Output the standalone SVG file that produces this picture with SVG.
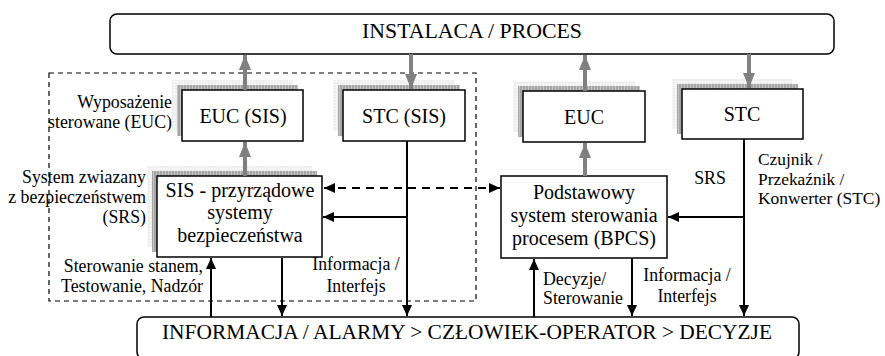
<svg xmlns="http://www.w3.org/2000/svg" width="885" height="356" viewBox="0 0 885 356" font-family="'Liberation Serif', serif">
<defs>
<marker id="ga" markerUnits="userSpaceOnUse" markerWidth="15" markerHeight="12" refX="15" refY="6" orient="auto-start-reverse"><path d="M0,0 L15,6 L0,12 z" fill="#808080"/></marker>
<marker id="ba" markerUnits="userSpaceOnUse" markerWidth="11" markerHeight="10" refX="11" refY="5" orient="auto-start-reverse"><path d="M0,0 L11,5 L0,10 z" fill="#000"/></marker>
<pattern id="grid" width="3" height="3" patternUnits="userSpaceOnUse"><rect width="3" height="3" fill="#ececec"/><path d="M0,0.5 H3 M0.5,0 V3" stroke="#f6f6f6" stroke-width="1"/></pattern>
<pattern id="gridd" width="3" height="3" patternUnits="userSpaceOnUse"><rect width="3" height="3" fill="#a6a6a6"/><path d="M0.5,0 V3" stroke="#c4c4c4" stroke-width="1"/></pattern>
</defs>
<style>
.box{fill:#fff;stroke:#000;stroke-width:1.5}
.sh1{fill:url(#grid)}
.sh2{fill:url(#gridd)}
.t{fill:#000}
.big{font-size:21.5px;text-anchor:middle}
.bx{font-size:20px;text-anchor:middle}
.lb{font-size:17.8px}
.g{stroke:#808080;stroke-width:4;fill:none;marker-end:url(#ga)}
.k{stroke:#000;stroke-width:2;fill:none}
.ka{marker-end:url(#ba)}
</style>

<g id="frame">
<rect x="49" y="73" width="427" height="228" fill="none" stroke="#000" stroke-width="1.2" stroke-dasharray="5,4"/>
</g>

<g id="instalacja">
<rect x="110" y="14" width="724" height="40" rx="7" class="box"/>
<text x="472" y="38" class="t big" font-family="Liberation Serif" style="font-size:21.8px">INSTALACA / PROCES</text>
</g>

<g id="euc-sis">
<rect x="172" y="80" width="121" height="51" class="sh1"/>
<rect x="177" y="85" width="121" height="51" class="sh2"/>
<rect x="182" y="90" width="121" height="51" class="box"/>
<text x="243" y="123" class="t bx" font-family="Liberation Serif">EUC (SIS)</text>
</g>

<g id="stc-sis">
<rect x="333" y="80" width="122" height="51" class="sh1"/>
<rect x="338" y="85" width="122" height="51" class="sh2"/>
<rect x="343" y="90" width="122" height="51" class="box"/>
<text x="404" y="123" class="t bx" font-family="Liberation Serif">STC (SIS)</text>
</g>

<g id="euc">
<rect x="513" y="81" width="122" height="51" class="sh1"/>
<rect x="518" y="86" width="122" height="51" class="sh2"/>
<rect x="523" y="91" width="122" height="51" class="box"/>
<text x="584" y="124" class="t bx" font-family="Liberation Serif">EUC</text>
</g>

<g id="stc">
<rect x="672" y="79" width="121" height="50" class="sh1"/>
<rect x="677" y="84" width="121" height="50" class="sh2"/>
<rect x="682" y="89" width="121" height="50" class="box"/>
<text x="742" y="121" class="t bx" font-family="Liberation Serif">STC</text>
</g>

<g id="sis" font-family="Liberation Serif">
<rect x="147" y="166" width="165" height="81" class="sh1"/>
<rect x="152" y="171" width="165" height="81" class="sh2"/>
<rect x="157" y="176" width="165" height="81" class="box"/>
<text x="240" y="197" class="t bx">SIS - przyrządowe</text>
<text x="240" y="219" class="t bx">systemy</text>
<text x="240" y="242" class="t bx">bezpieczeństwa</text>
</g>

<g id="bpcs" font-family="Liberation Serif">
<rect x="501" y="176" width="166" height="82" class="box"/>
<text x="584" y="199" class="t bx">Podstawowy</text>
<text x="584" y="222" class="t bx">system sterowania</text>
<text x="584" y="245" class="t bx">procesem (BPCS)</text>
</g>

<g id="operator">
<rect x="137" y="317" width="662" height="42" rx="7" class="box"/>
<text x="467" y="339" class="t big" font-family="Liberation Serif" style="font-size:21.4px">INFORMACJA / ALARMY &gt; CZŁOWIEK-OPERATOR &gt; DECYZJE</text>
</g>

<g id="connectors">
<line x1="245" y1="90" x2="245" y2="55" class="g"/>
<line x1="245" y1="176" x2="245" y2="142" class="g"/>
<line x1="411" y1="54" x2="411" y2="89" class="g"/>
<line x1="585" y1="91" x2="585" y2="55" class="g"/>
<line x1="585" y1="176" x2="585" y2="143" class="g"/>
<line x1="749" y1="54" x2="749" y2="88" class="g"/>
<line x1="407" y1="141" x2="407" y2="316" class="k ka"/>
<line x1="408" y1="217" x2="323" y2="217" class="k ka"/>
<line x1="324" y1="188" x2="500" y2="188" class="k" stroke-dasharray="8,6" marker-start="url(#ba)" marker-end="url(#ba)"/>
<line x1="211" y1="317" x2="211" y2="258" class="k ka"/>
<line x1="282" y1="258" x2="282" y2="316" class="k ka"/>
<line x1="534" y1="317" x2="534" y2="259" class="k ka"/>
<line x1="632" y1="258" x2="632" y2="316" class="k ka"/>
<line x1="744" y1="139" x2="744" y2="316" class="k ka"/>
<line x1="745" y1="217" x2="668" y2="217" class="k ka"/>
</g>

<g id="labels" font-family="Liberation Serif">
<text x="172" y="108" class="t lb" text-anchor="end">Wyposażenie</text>
<text x="172" y="128" class="t lb" text-anchor="end">sterowane (EUC)</text>
<text x="146" y="183" class="t lb" text-anchor="end">System zwiazany</text>
<text x="146" y="203" class="t lb" text-anchor="end">z bezpieczeństwem</text>
<text x="146" y="223" class="t lb" text-anchor="end">(SRS)</text>
<text x="203" y="272" class="t lb" text-anchor="end">Sterowanie stanem,</text>
<text x="203" y="292" class="t lb" text-anchor="end">Testowanie, Nadzór</text>
<text x="356" y="270" class="t lb" text-anchor="middle">Informacja /</text>
<text x="356" y="292" class="t lb" text-anchor="middle">Interfejs</text>
<text x="710" y="184" class="t lb" text-anchor="middle">SRS</text>
<text x="758" y="165" class="t lb" style="font-size:17.4px">Czujnik /</text>
<text x="758" y="184.5" class="t lb" style="font-size:17.4px">Przekaźnik /</text>
<text x="758" y="204" class="t lb" style="font-size:17.4px">Konwerter (STC)</text>
<text x="543" y="285" class="t lb">Decyzje/</text>
<text x="543" y="304" class="t lb">Sterowanie</text>
<text x="687" y="281" class="t lb" text-anchor="middle">Informacja /</text>
<text x="687" y="302" class="t lb" text-anchor="middle">Interfejs</text>
</g>
</svg>
